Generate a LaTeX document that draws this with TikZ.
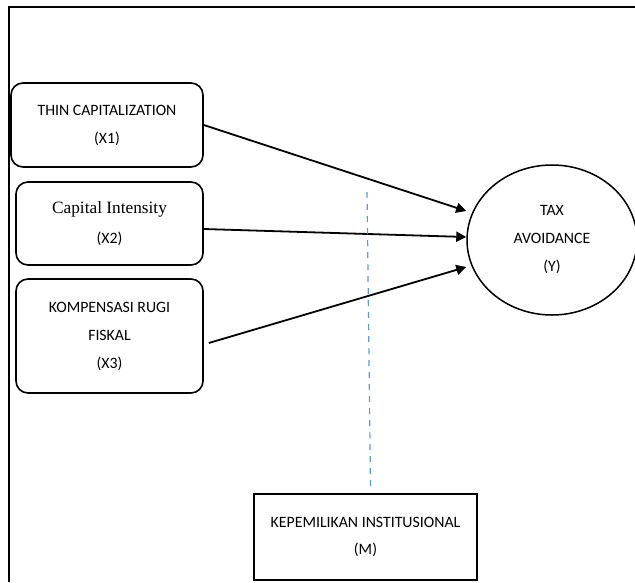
\documentclass[tikz,border=0pt]{standalone}
\usepackage{fontspec}
\setmainfont{Carlito}
\newfontfamily\timesfont{Liberation Serif}
\usetikzlibrary{arrows.meta,shapes.geometric}

\begin{document}
\begin{tikzpicture}[x=1pt, y=-1pt,
    varbox/.style={draw, line width=1.6pt, rounded corners=12pt, align=center, inner sep=0pt,
      font=\fontsize{15.8}{28}\selectfont},
    depvar/.style={draw, ellipse, line width=1.5pt, align=center, inner sep=0pt,
      minimum width=170pt, minimum height=150pt, font=\fontsize{15.8}{28}\selectfont},
    modbox/.style={draw, line width=1.6pt, align=center, inner sep=0pt,
      minimum width=223pt, minimum height=86pt, font=\fontsize{15.8}{27}\selectfont},
    effect/.style={line width=1.8pt, -{Triangle[length=10pt,width=10pt]}}]
  % colors
  \definecolor{dashblue}{RGB}{91,155,213}

  % parameters
  \def\bw{187pt}  % width of the lower boxes

  \useasboundingbox (0,0) rectangle (635,582);

  % frame
  \draw[line width=2.6pt] (9,582) -- (9,7) -- (635,7);

  % independent variables
  \node[varbox, minimum width=192pt, minimum height=84pt] (x1) at (107,125)
    {THIN CAPITALIZATION\\(X1)};
  \node[varbox, minimum width=\bw, minimum height=83pt] (x2) at (109.5,223.5)
    {{\timesfont\fontsize{17.3}{28}\selectfont Capital Intensity}\\[2pt](X2)};
  \node[varbox, minimum width=\bw, minimum height=114pt] (x3) at (109.5,336)
    {KOMPENSASI RUGI\\FISKAL\\(X3)};

  % dependent variable
  \node[depvar] (y) at (552,240) {TAX\\AVOIDANCE\\(Y)};

  % moderator
  \node[modbox] (m) at (365.5,537) {KEPEMILIKAN INSTITUSIONAL\\(M)};
  \coordinate (modtop) at (367,189);

  % arrows
  \draw[effect] (x1.east) -- ([yshift=29pt]y.west);
  \draw[effect] ([yshift=-5.5pt]x2.east) -- ([yshift=3pt]y.west);
  \draw[effect] ([xshift=5pt,yshift=-7pt]x3.east) -- ([yshift=-27pt]y.west);

  % moderating line
  \draw[dashblue, line width=1.2pt, dash pattern=on 6pt off 6pt]
    ([xshift=5pt,yshift=7pt]m.north) -- (modtop);
\end{tikzpicture}
\end{document}
